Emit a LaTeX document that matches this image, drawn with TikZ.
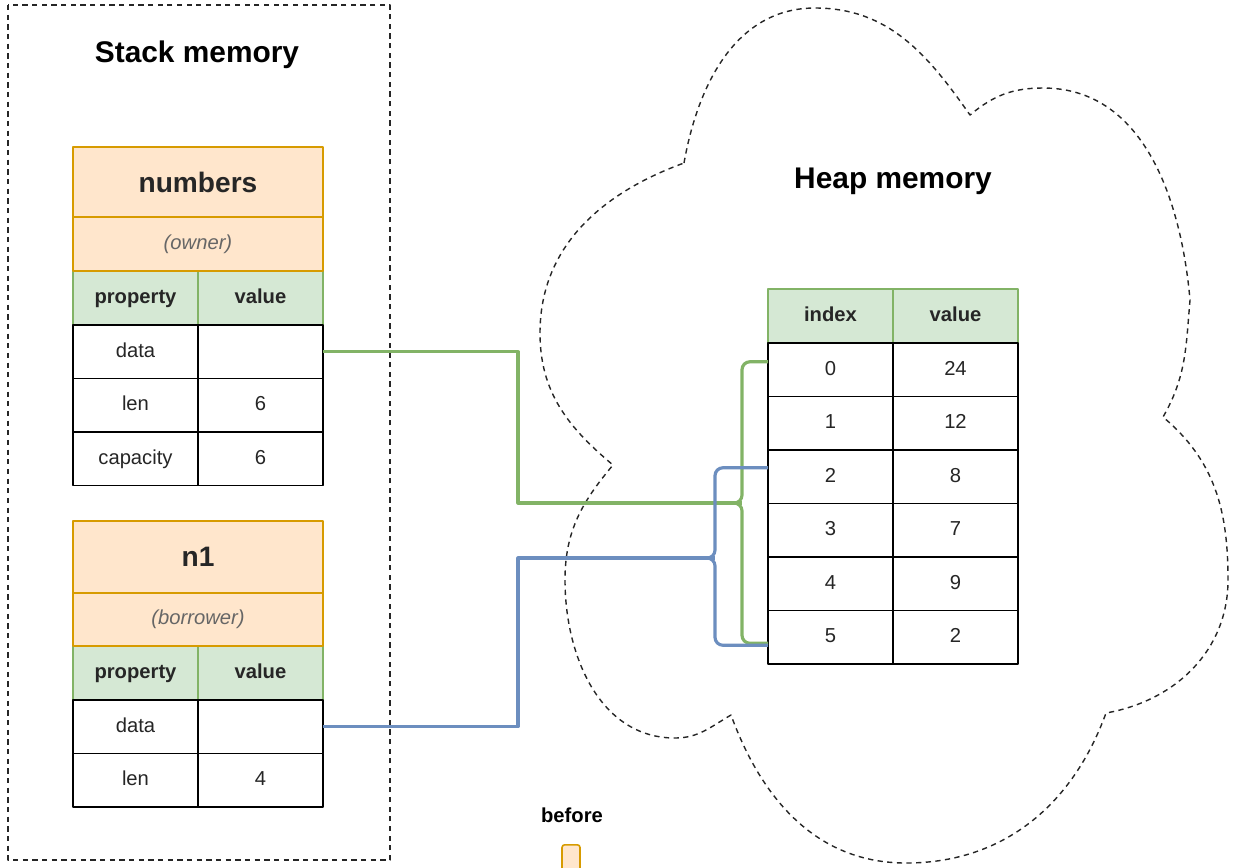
\documentclass[tikz,border=0pt]{standalone}
\usepackage{fontspec}
\setmainfont{Liberation Sans}
\usetikzlibrary{calc}
\definecolor{ownfill}{HTML}{FFE6CC}
\definecolor{ownline}{HTML}{D79B00}
\definecolor{hdfill}{HTML}{D5E8D4}
\definecolor{hdline}{HTML}{82B366}
\definecolor{refblue}{HTML}{6C8EBF}
\tikzset{
  cell/.style={draw=black, fill=white, line width=0.8pt, anchor=north west,
    minimum width=2.5cm, minimum height=1.07cm, inner sep=0pt, outer sep=0pt,
    text height=8.5pt, text depth=2.5pt,
    text=black!85, font=\fontsize{11.5}{14}\selectfont},
  headcell/.style={cell, fill=hdfill, draw=hdline, minimum height=1.08cm,
    font=\fontsize{11.5}{14}\selectfont\bfseries},
  namebox/.style={cell, fill=ownfill, draw=ownline, minimum width=5cm, text height=, text depth=},
  wire/.style={line width=1.8pt},
  brace/.style={wire, rounded corners=4.5pt},
  memline/.style={line width=0.8pt, dash pattern=on 3pt off 2.5pt, draw=black!85},
  memtitle/.style={font=\fontsize{17}{20}\selectfont\bfseries}
}
\begin{document}
\begin{tikzpicture}[x=0.02cm, y=-0.02cm, line join=round]
\useasboundingbox (0,0) rectangle (1233,867);
% stack frame
\draw[memline] (8,5) rectangle (390,860);
\node[memtitle] (stack) at (197,55) {Stack memory};
% heap cloud
\draw[memline] (684,163) to[out=80,in=180] (815,8) to[out=0,in=125] (970,115)
  to[out=40,in=180] (1043,88) to[out=0,in=95] (1190,300) to[out=-95,in=60] (1163,417)
  to[out=-40,in=90] (1228,580) to[out=-90,in=10] (1106,713) to[out=-110,in=0] (906,863)
  to[out=180,in=-70] (731,715) to[out=-150,in=0] (675,738) to[out=180,in=-90] (565,580)
  to[out=90,in=-130] (613,465) to[out=140,in=-90] (540,333) to[out=90,in=-160] (684,163);
\node[memtitle] (heap) at (893,181) {Heap memory};

% numbers (owner)
\node[headcell] (numHk) at (73,271) {property};
\node[headcell] (numHv) at (198,271) {value};
\node[namebox, minimum height=1.4cm] (numT) at (73,147) {\fontsize{16}{19}\selectfont\bfseries numbers};
\node[namebox, minimum height=1.08cm] (numS) at (73,217) {\color{black!60}\itshape (owner)};
\foreach \k/\v [count=\i] in {data/,len/6,capacity/6}{
  \node[cell] (numK\i) at (73,{325+53.5*(\i-1)}) {\k};
  \node[cell] (numV\i) at (198,{325+53.5*(\i-1)}) {\v};
}

% n1 (borrower)
\node[headcell] (n1Hk) at (73,646) {property};
\node[headcell] (n1Hv) at (198,646) {value};
\node[namebox, minimum height=1.44cm] (n1T) at (73,521) {\fontsize{16}{19}\selectfont\bfseries n1};
\node[namebox, minimum height=1.06cm] (n1S) at (73,593) {\color{black!60}\itshape (borrower)};
\foreach \k/\v [count=\i] in {data/,len/4}{
  \node[cell] (n1K\i) at (73,{700+53.5*(\i-1)}) {\k};
  \node[cell] (n1V\i) at (198,{700+53.5*(\i-1)}) {\v};
}

% heap array
\node[headcell] (hidx) at (768,289) {index};
\node[headcell] (hval) at (893,289) {value};
\foreach \i/\v in {0/24,1/12,2/8,3/7,4/9,5/2}{
  \node[cell] (h\i) at (768,{343+53.5*\i}) {\i};
  \node[cell] (hv\i) at (893,{343+53.5*\i}) {\v};
}

% references
\coordinate (gfork) at (742,503);
\coordinate (bfork) at (715,558);
\draw[wire, draw=hdline] (numV1.east) -| (518,503) -- (gfork);
\foreach \t/\s in {h0/-8,h5/6}
  \draw[brace, draw=hdline] ($(gfork)+(-20,0)$) -- (gfork) |- ($(\t.west)+(0,\s)$);
\draw[wire, draw=refblue] (n1V1.east) -| (518,558) -- (bfork);
\foreach \t/\s in {h2/-9,h5/8}
  \draw[brace, draw=refblue] ($(bfork)+(-20,0)$) -- (bfork) |- ($(\t.west)+(0,\s)$);

% legend
\node[font=\fontsize{11.5}{14}\selectfont\bfseries] (before) at (572,815) {before};
\node[draw=ownline, fill=ownfill, line width=0.9pt, rounded corners=1.5pt, anchor=north,
  minimum width=0.36cm, minimum height=0.7cm, inner sep=0pt] (mark) at (571,844) {};
\end{tikzpicture}
\end{document}
